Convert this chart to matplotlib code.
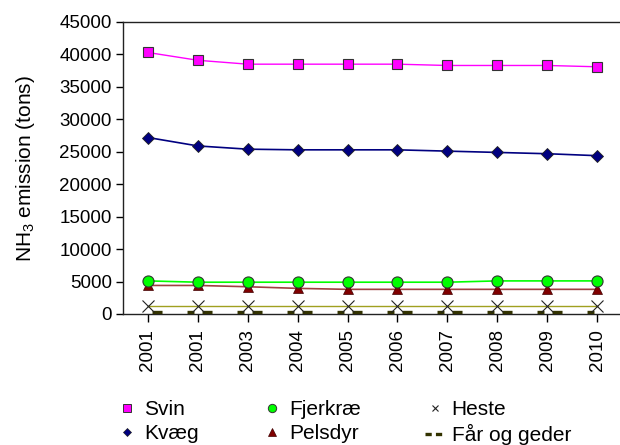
import matplotlib
matplotlib.use("Agg")
import matplotlib.pyplot as plt
from matplotlib.lines import Line2D

plt.rcParams['font.family'] = ['Liberation Sans', 'DejaVu Sans']
plt.rcParams['mathtext.fontset'] = 'custom'
plt.rcParams['mathtext.rm'] = 'Liberation Sans'
plt.rcParams['mathtext.it'] = 'Liberation Sans'
plt.rcParams['lines.scale_dashes'] = False

years = ['2001', '2001', '2003', '2004', '2005', '2006', '2007', '2008', '2009', '2010']
svin = [40300, 39100, 38500, 38500, 38500, 38500, 38300, 38300, 38300, 38100]
kvaeg = [27200, 25900, 25400, 25300, 25300, 25300, 25100, 24900, 24700, 24400]
fjerkrae = [5100, 4900, 4900, 4900, 4900, 4900, 4900, 5100, 5100, 5100]
pelsdyr = [4400, 4400, 4200, 3950, 3800, 3800, 3800, 3800, 3800, 3800]
heste = [1200] * 10
faar = [300] * 10

fs = 13.5
fig = plt.figure(figsize=(6.2, 4.45), dpi=100)
ax = fig.add_axes([123 / 620, 1 - 314 / 445, 497 / 620, 292 / 445])

x = range(len(years))
ax.plot(x, svin, color='#FF00FF', lw=1.0, marker='s', ms=7.5,
        mfc='#FF00FF', mec='#333333', mew=0.8, zorder=5)
ax.plot(x, kvaeg, color='#000080', lw=1.2, marker='D', ms=6.3,
        mfc='#000080', mec='#222222', mew=0.6, zorder=5)
ax.plot(x, fjerkrae, color='#00FF00', lw=1.2, marker='o', ms=8,
        mfc='#00FF00', mec='#333333', mew=0.8, zorder=5)
ax.plot(x, pelsdyr, color='#A04040', lw=1.2, marker='^', ms=7,
        mfc='#800000', mec='#400000', mew=0.5, zorder=4)
ax.plot(x, heste, color='#A0A020', lw=1.0, marker='x', ms=9,
        mec='#222222', mew=0.8, zorder=4)
# dash pattern repeating once per category step (about 36 pt)
ax.plot(x, faar, color='#333300', lw=2.4, zorder=3,
        ls=(33.1, (7.2, 18.0, 5.0, 5.8)))

ax.set_xlim(-0.5, 9.46)
ax.set_ylim(0, 45000)
ax.set_yticks(range(0, 45001, 5000))
ax.set_xticks(list(x))
ax.set_xticklabels(years, rotation=90, fontsize=fs)
ax.tick_params(axis='y', labelsize=fs, length=5, width=1, pad=3)
ax.tick_params(axis='x', length=6, width=1, pad=5)
ax.spines['right'].set_visible(False)
for s in ['left', 'top', 'bottom']:
    ax.spines[s].set_linewidth(1.0)
    ax.spines[s].set_color('#222222')

ax.set_ylabel(r'NH$_3$ emission (tons)', fontsize=15, labelpad=16)

handles = [
    Line2D([], [], ls='none', marker='s', ms=5.5, mfc='#FF00FF', mec='#333333', mew=0.7),
    Line2D([], [], ls='none', marker='D', ms=4.5, mfc='#000080', mec='#222222', mew=0.5),
    Line2D([], [], ls='none', marker='o', ms=6, mfc='#00FF00', mec='#333333', mew=0.7),
    Line2D([], [], ls='none', marker='^', ms=6, mfc='#800000', mec='#400000', mew=0.5),
    Line2D([], [], ls='none', marker='x', ms=5, mec='#222222', mew=0.8),
    Line2D([], [], color='#333300', lw=2.4, ls=(0, (4.5, 3.0))),
]
labels = ['Svin', 'Kvæg', 'Fjerkræ', 'Pelsdyr', 'Heste', 'Får og geder']
fig.legend(handles, labels, loc='upper left', bbox_to_anchor=(117 / 620, 1 - 400 / 445),
           ncol=3, frameon=False, fontsize=15, borderpad=0, borderaxespad=0,
           handlelength=0.95, handletextpad=0.35, columnspacing=3.05, labelspacing=0.26)

fig.savefig('out.png', dpi=100)
